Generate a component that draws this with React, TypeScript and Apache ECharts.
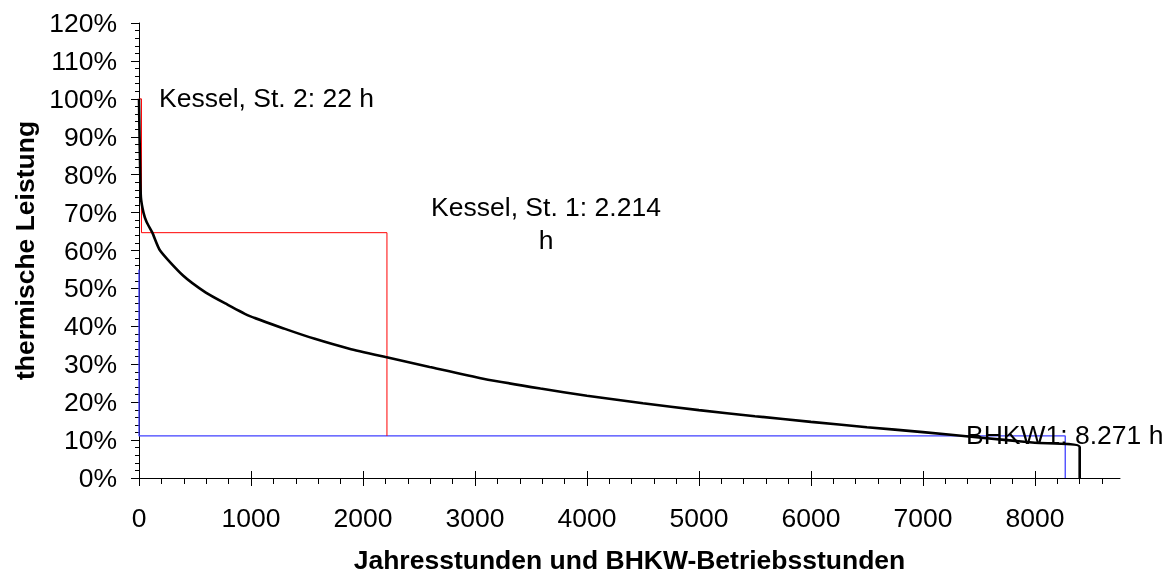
import React, { useEffect, useRef } from "react";
import * as echarts from "echarts";

// Jahresdauerlinie (hours, % thermal load)
const curveHours = [0, 5, 10, 17, 40, 68, 119, 188, 393, 597, 780, 990, 1297, 1570, 1878, 2202, 2595, 3073, 3585, 4000, 4500, 5000, 5500, 6000, 6500, 7000, 7500, 8000, 8400, 8400];
const curveLoad = [100, 90, 82, 74, 70, 67.5, 64.7, 60.0, 53.4, 48.9, 45.9, 42.7, 39.4, 36.7, 34.1, 31.9, 29.3, 26.2, 23.6, 21.7, 19.7, 17.9, 16.3, 14.8, 13.4, 12.1, 10.7, 9.3, 8.2, 0];

// Kessel (boiler) steps
const kesselHours = [0, 22, 22, 2214, 2214];
const kesselLoad = [100, 100, 64.7, 64.7, 11.1];

// BHKW step
const bhkwHours = [0, 0, 8271, 8271];
const bhkwLoad = [55, 11.1, 11.1, 0];

const xMajorTicks = [0, 1000, 2000, 3000, 4000, 5000, 6000, 7000, 8000];
const xMinorTicks = [200, 400, 600, 800, 1200, 1400, 1600, 1800, 2200, 2400, 2600, 2800, 3200, 3400, 3600, 3800, 4200, 4400, 4600, 4800, 5200, 5400, 5600, 5800, 6200, 6400, 6600, 6800, 7200, 7400, 7600, 7800, 8200, 8400, 8600];

const annotations = [
  { text: "Kessel, St. 2: 22 h" },
  { text: "Kessel, St. 1: 2.214\nh" },
  { text: "BHKW1: 8.271 h" },
];

const FONT = "'Liberation Sans', Arial, sans-serif";
const FS = 26.5;

export default function App() {
  const ref = useRef<HTMLDivElement>(null);
  useEffect(() => {
    if (!ref.current) return;
    const chart = echarts.init(ref.current, undefined, { renderer: "svg" });
    const zip = (a: number[], b: number[]) => a.map((v, i) => [v, b[i]]);
    const xBase = { type: "value", min: 0, max: 8760, gridIndex: 0, position: "bottom", splitLine: { show: false } };
    chart.setOption({
      animation: false,
      textStyle: { fontFamily: FONT },
      grid: { left: 139, top: 23, right: 54, bottom: 98, containLabel: false },
      xAxis: [
        {
          ...xBase,
          name: "Jahresstunden und BHKW-Betriebsstunden",
          nameLocation: "middle",
          nameGap: 68,
          nameTextStyle: { fontSize: FS, fontWeight: "bold", color: "#000", fontFamily: FONT },
          axisLine: { show: true, lineStyle: { color: "#000", width: 1 } },
          axisTick: { show: true, inside: false, length: 8, customValues: xMajorTicks, lineStyle: { color: "#000" } },
          axisLabel: {
            show: true,
            customValues: xMajorTicks,
            margin: 26,
            fontSize: FS,
            color: "#000",
            fontFamily: FONT,
            formatter: (v: number) => String(v),
          },
        },
        {
          ...xBase,
          axisLine: { show: false },
          axisTick: { show: true, inside: true, length: 7, customValues: xMajorTicks, lineStyle: { color: "#000" } },
          axisLabel: { show: false },
        },
        {
          ...xBase,
          axisLine: { show: false },
          axisTick: { show: true, inside: false, length: 6, customValues: xMinorTicks, lineStyle: { color: "#000" } },
          axisLabel: { show: false },
        },
      ],
      yAxis: {
        type: "value",
        min: 0,
        max: 120,
        interval: 10,
        name: "thermische Leistung",
        nameLocation: "middle",
        nameGap: 98,
        nameRotate: 90,
        nameTextStyle: { fontSize: FS, fontWeight: "bold", color: "#000", fontFamily: FONT },
        axisLine: { show: true, lineStyle: { color: "#000", width: 1 } },
        axisTick: { show: true, inside: false, length: 8, lineStyle: { color: "#000" } },
        minorTick: { show: true, splitNumber: 5, length: 4, lineStyle: { color: "#000" } },
        axisLabel: { formatter: "{value}%", margin: 22, fontSize: FS, color: "#000", fontFamily: FONT },
        splitLine: { show: false },
      },
      series: [
        {
          name: "BHKW1",
          type: "line",
          data: zip(bhkwHours, bhkwLoad),
          showSymbol: false,
          lineStyle: { color: "#4040ff", width: 1.3 },
          z: 2,
        },
        {
          name: "Kessel",
          type: "line",
          data: zip(kesselHours, kesselLoad),
          showSymbol: false,
          lineStyle: { color: "#ff0000", width: 1 },
          z: 3,
        },
        {
          name: "Jahresdauerlinie",
          type: "line",
          data: zip(curveHours, curveLoad),
          showSymbol: false,
          smooth: 0.2,
          lineStyle: { color: "#000", width: 2.6 },
          z: 4,
        },
      ],
      graphic: [
        { type: "text", left: 159, top: 84, style: { text: annotations[0].text, font: `${FS}px ${FONT}`, fill: "#000" } },
        { type: "text", x: 546, y: 190, style: { text: annotations[1].text, font: `${FS}px ${FONT}`, fill: "#000", textAlign: "center", lineHeight: 33 } },
        { type: "text", left: 966, top: 421, z: 10, style: { text: annotations[2].text, font: `${FS}px ${FONT}`, fill: "#000" } },
      ],
    });
    return () => chart.dispose();
  }, []);
  return <div ref={ref} style={{ position: "fixed", left: 0, top: 0, width: 1174, height: 578 }} />;
}
